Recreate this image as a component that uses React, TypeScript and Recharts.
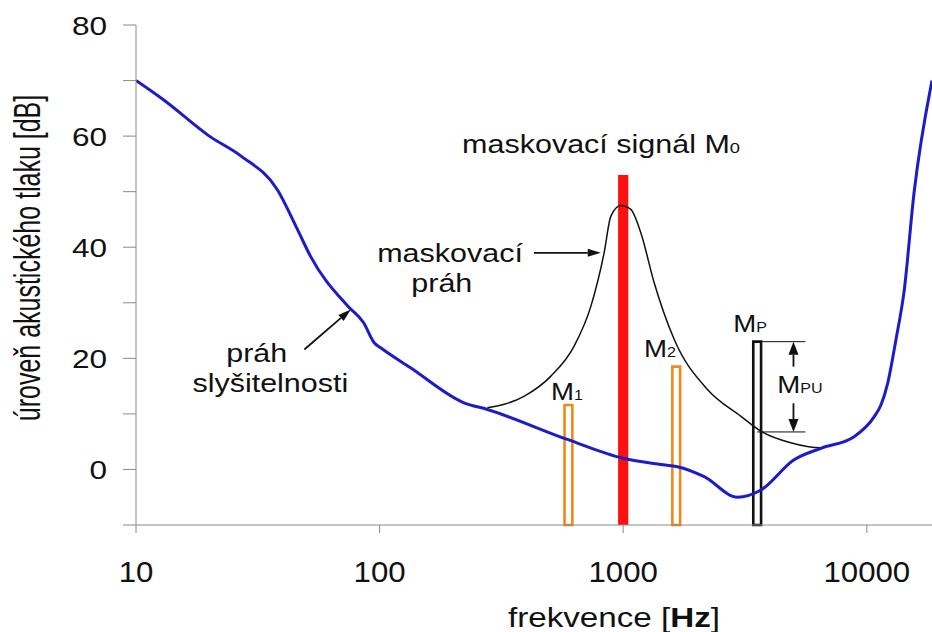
import React from "react";
import {
  LineChart,
  Line,
  XAxis,
  YAxis,
  ReferenceArea,
  ReferenceLine,
  ReferenceDot,
} from "recharts";

const FONT = "'Liberation Sans', Arial, sans-serif";
const INK = "#111111";

// práh slyšitelnosti (modrá křivka)
const hearingFreq = [
  10, 13, 20, 27, 38, 46, 52, 74, 86, 95, 101, 134, 222, 277, 590, 1000,
  1426, 1670, 2150, 2946, 3680, 5010, 6470, 8870, 10730, 11430, 12180, 13190,
  14220, 15630, 18520,
];
const hearingDb = [
  70, 66.5, 60, 56.4, 50.4, 43.2, 38.4, 29.4, 26.4, 22.8, 21.9, 18.3, 12.0,
  10.8, 5.4, 2.0, 0.9, 0.5, -1.3, -5.0, -3.7, 1.7, 3.8, 5.9, 9.5, 11.6, 15.5,
  23.5, 32, 49.8, 70,
];

// maskovací práh (černá křivka)
const maskFreq = [
  277, 393, 505, 629, 737, 835, 890, 977, 1074, 1181, 1340, 1620, 2218, 3035,
  3670, 4870, 6470, 6670,
];
const maskDb = [
  11.1, 13.2, 16.8, 22.2, 29.4, 39, 45.6, 47.5, 46.8, 42.6, 33.6, 23.4, 14.4,
  9.6, 6.9, 4.8, 3.9, 3.9,
];

// signály: M0 (maskovací), M1, M2, MP
const signalNames = ["M0", "M1", "M2", "MP"];
const signalFreq = [1000, 596, 1651, 3548];
const signalDb = [53, 11.6, 18.5, 23.0];

// M_PU – rozdíl mezi MP a maskovacím prahem
const mpuFreqFrom = 3548;
const mpuFreqTo = 5600;
const mpuArrowFreq = 5000;
const mpuTopDb = 23.0;
const mpuBottomDb = 6.75;

const xTicks = [10, 100, 1000, 10000];
const yTicks = [-10, 0, 10, 20, 30, 40, 50, 60, 70, 80];
const yLabelled = [0, 20, 40, 60, 80];

const hearing = hearingFreq.map((f, i) => ({ f, db: hearingDb[i] }));
const mask = maskFreq.map((f, i) => ({ f, db: maskDb[i] }));

const signalStyle: Record<string, any> = {
  M0: { fill: "#ff1010", stroke: "none", half: 0.021 },
  M1: { fill: "#ffffff", stroke: "#ec8a1c", half: 0.016 },
  M2: { fill: "#ffffff", stroke: "#ec8a1c", half: 0.016 },
  MP: { fill: "#ffffff", stroke: "#111111", half: 0.016 },
};

function StretchText({ x, y, children, size = 25, sx = 1.22, anchor = "middle" }: any) {
  return (
    <text
      transform={`translate(${x},${y}) scale(${sx},1)`}
      textAnchor={anchor}
      fontSize={size}
      fontFamily={FONT}
      fill={INK}
    >
      {children}
    </text>
  );
}

// text ukotvený v datových souřadnicích
const textAt = (content: (x: number, y: number) => React.ReactNode) => (p: any) =>
  <g>{content(p.cx, p.cy)}</g>;

const mLabel = (sub: string) => (x: number, y: number) => (
  <StretchText x={x} y={y} size={24} sx={1.15}>
    M<tspan fontSize={14}>{sub}</tspan>
  </StretchText>
);

const arrowShape = (hw: number) => (p: any) => {
  const { x1, y1, x2, y2 } = p;
  const dx = x2 - x1;
  const dy = y2 - y1;
  const len = Math.hypot(dx, dy) || 1;
  const ux = dx / len;
  const uy = dy / len;
  const hl = 13;
  const bx = x2 - ux * hl;
  const by = y2 - uy * hl;
  const pts = `${x2},${y2} ${bx - uy * hw},${by + ux * hw} ${bx + uy * hw},${by - ux * hw}`;
  return (
    <g>
      <line x1={x1} y1={y1} x2={bx} y2={by} stroke={INK} strokeWidth={1.8} />
      <polygon points={pts} fill={INK} />
    </g>
  );
};

function YTick(props: any) {
  const { x, y, payload } = props;
  if (!yLabelled.includes(payload.value)) return <g />;
  return (
    <StretchText x={x - 14} y={y + 9.5} size={26.5} sx={1.19} anchor="end">
      {payload.value}
    </StretchText>
  );
}

function XTick(props: any) {
  const { x, y, payload } = props;
  return (
    <StretchText x={x} y={y + 47} size={30} sx={1.04}>
      {payload.value}
    </StretchText>
  );
}

export default function App() {
  return (
    <div style={{ position: "absolute", left: 0, top: 0, width: 932, height: 632, background: "#fff" }}>
      <LineChart width={932} height={632} margin={{ top: 25, right: 0, bottom: 0, left: 0 }}>
        <XAxis
          dataKey="f"
          type="number"
          scale="log"
          domain={[10, 18520]}
          allowDataOverflow
          ticks={xTicks}
          interval={0}
          height={107}
          tickSize={8}
          stroke="#8a8a8a"
          tick={XTick}
          label={{
            content: () => (
              <StretchText x={614} y={627} size={27} sx={1.23}>
                frekvence [<tspan fontWeight="bold">Hz</tspan>]
              </StretchText>
            ),
          }}
        />
        <YAxis
          type="number"
          domain={[-10, 80]}
          allowDataOverflow
          ticks={yTicks}
          interval={0}
          width={136}
          tickSize={13}
          stroke="#8a8a8a"
          tick={YTick}
          label={{
            content: () => (
              <text
                transform="translate(40,258) rotate(-90) scale(1,1.45)"
                textAnchor="middle"
                fontSize={25}
                fontFamily={FONT}
                fill={INK}
              >
                úroveň akustického tlaku [dB]
              </text>
            ),
          }}
        />

        {signalNames.map((name, i) => {
          const st = signalStyle[name];
          return (
            <ReferenceArea
              key={name}
              x1={signalFreq[i] / Math.pow(10, st.half)}
              x2={signalFreq[i] * Math.pow(10, st.half)}
              y1={-10}
              y2={signalDb[i]}
              fill={st.fill}
              fillOpacity={1}
              stroke={st.stroke}
              strokeWidth={2.6}
              ifOverflow="visible"
            />
          );
        })}

        <Line
          data={mask}
          dataKey="db"
          type="monotone"
          stroke="#111"
          strokeWidth={1.5}
          dot={false}
          activeDot={false}
          isAnimationActive={false}
        />
        <Line
          data={hearing}
          dataKey="db"
          type="monotone"
          stroke="#1c1cc8"
          strokeWidth={3}
          dot={false}
          activeDot={false}
          isAnimationActive={false}
        />

        {/* M_PU kóta */}
        <ReferenceLine
          segment={[{ x: 3700, y: mpuTopDb }, { x: mpuFreqTo, y: mpuTopDb }]}
          stroke={INK}
          strokeWidth={1}
        />
        <ReferenceLine
          segment={[{ x: mpuFreqFrom, y: mpuBottomDb }, { x: mpuFreqTo, y: mpuBottomDb }]}
          stroke={INK}
          strokeWidth={1}
        />
        <ReferenceLine
          segment={[{ x: mpuArrowFreq, y: 18.5 }, { x: mpuArrowFreq, y: mpuTopDb }]}
          shape={arrowShape(5)}
        />
        <ReferenceLine
          segment={[{ x: mpuArrowFreq, y: 11.9 }, { x: mpuArrowFreq, y: mpuBottomDb }]}
          shape={arrowShape(5)}
        />

        {/* šipky k popiskům */}
        <ReferenceLine segment={[{ x: 430, y: 39 }, { x: 809, y: 39 }]} shape={arrowShape(4)} />
        <ReferenceLine segment={[{ x: 49.1, y: 21.6 }, { x: 76.2, y: 28.8 }]} shape={arrowShape(4)} />

        {/* popisky */}
        <ReferenceDot
          x={811}
          y={56.95}
          r={1}
          shape={textAt((x, y) => (
            <StretchText x={x} y={y}>
              maskovací signál M<tspan fontSize={15}>0</tspan>
            </StretchText>
          ))}
        />
        <ReferenceDot x={194.6} y={37.3} r={1} shape={textAt((x, y) => <StretchText x={x} y={y}>maskovací</StretchText>)} />
        <ReferenceDot x={180} y={31.9} r={1} shape={textAt((x, y) => <StretchText x={x} y={y}>práh</StretchText>)} />
        <ReferenceDot x={31.3} y={19.3} r={1} shape={textAt((x, y) => <StretchText x={x} y={y}>práh</StretchText>)} />
        <ReferenceDot x={35.6} y={13.9} r={1} shape={textAt((x, y) => <StretchText x={x} y={y}>slyšitelnosti</StretchText>)} />
        <ReferenceDot x={588} y={12.5} r={1} shape={textAt(mLabel("1"))} />
        <ReferenceDot x={1416} y={20.3} r={1} shape={textAt(mLabel("2"))} />
        <ReferenceDot x={3319} y={24.8} r={1} shape={textAt(mLabel("P"))} />
        <ReferenceDot x={5320} y={13.7} r={1} shape={textAt(mLabel("PU"))} />
      </LineChart>
    </div>
  );
}
